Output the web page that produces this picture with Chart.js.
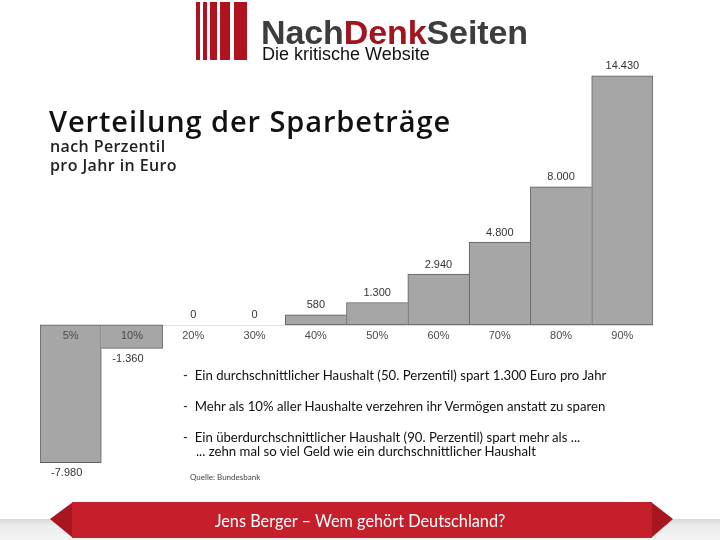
<!DOCTYPE html>
<html>
<head>
<meta charset="utf-8">
<script src="https://cdn.jsdelivr.net/npm/chart.js@4"></script>
<style>
  body { margin: 0; background: #fff; }
  #seite { position: relative; width: 720px; height: 540px; overflow: hidden; background: #fff; }
  #grafik { position: absolute; left: 0; top: 0; }
  .txt { position: absolute; white-space: nowrap; line-height: 1; }
  .streifen { position: absolute; top: 2px; height: 58px; background: #b0121f; }
</style>
</head>
<body>
<div id="seite">
  <canvas id="grafik" width="720" height="540"></canvas>

  <!-- Logo -->
  <div class="streifen" style="left:196px;width:4px"></div>
  <div class="streifen" style="left:203px;width:4px"></div>
  <div class="streifen" style="left:210px;width:7px"></div>
  <div class="streifen" style="left:220px;width:10px"></div>
  <div class="streifen" style="left:234px;width:13px"></div>
  <div class="txt" style="left:261px;top:13px;font:bold 34px 'Liberation Sans',Arial;color:#3d3d3d;letter-spacing:-0.1px">Nach<span style="color:#a0151f">Denk</span>Seiten</div>
  <div class="txt" style="left:262px;top:44px;font:18px 'Liberation Sans',Arial;color:#111">Die kritische Website</div>

  <!-- Titel -->
  <div class="txt" style="left:49px;top:101px;font:600 29px 'Open Sans';color:#111;letter-spacing:0.9px">Verteilung der Sparbeträge</div>
  <div class="txt" style="left:50px;top:135px;font:600 16px 'Open Sans';color:#222;letter-spacing:0.4px">nach Perzentil</div>
  <div class="txt" style="left:50px;top:154px;font:600 16px 'Open Sans';color:#222;letter-spacing:0.4px">pro Jahr in Euro</div>

  <!-- Aussagen -->
  <div class="txt" style="left:183px;top:367px;font:13.2px Lato;color:#111">-&nbsp; Ein durchschnittlicher Haushalt (50. Perzentil) spart 1.300 Euro pro Jahr</div>
  <div class="txt" style="left:183px;top:398px;font:13.2px Lato;color:#111">-&nbsp; Mehr als 10% aller Haushalte verzehren ihr Vermögen anstatt zu sparen</div>
  <div class="txt" style="left:183px;top:429px;font:13.2px Lato;color:#111">-&nbsp; Ein überdurchschnittlicher Haushalt (90. Perzentil) spart mehr als ...</div>
  <div class="txt" style="left:196px;top:443px;font:13.2px Lato;color:#111">... zehn mal so viel Geld wie ein durchschnittlicher Haushalt</div>
  <div class="txt" style="left:190px;top:472px;font:8px Lato;color:#444">Quelle: Bundesbank</div>

  <!-- Fusszeile -->
  <svg style="position:absolute;left:0;top:0" width="720" height="540">
    <defs>
      <linearGradient id="grau" x1="0" y1="0" x2="0" y2="1">
        <stop offset="0" stop-color="#d9d9d9"/>
        <stop offset="0.3" stop-color="#ececec"/>
        <stop offset="1" stop-color="#f4f4f4"/>
      </linearGradient>
    </defs>
    <rect x="0" y="519" width="720" height="21" fill="url(#grau)"/>
    <polygon points="73,502 50,519 73,538" fill="#a8161f"/>
    <polygon points="651,502 673,519 651,538" fill="#a8161f"/>
    <rect x="72" y="502" width="580" height="36" fill="#c41f2b"/>
  </svg>
  <div class="txt" style="left:0;width:720px;text-align:center;top:511px;font:16.3px Lato;color:#fff">Jens Berger – Wem gehört Deutschland?</div>
</div>

<script>
const percentile = ['5%', '10%', '20%', '30%', '40%', '50%', '60%', '70%', '80%', '90%'];
const sparbetraege = [-7980, -1360, 0, 0, 580, 1300, 2940, 4800, 8000, 14430];
const wertLabels = ['-7.980', '-1.360', '0', '0', '580', '1.300', '2.940', '4.800', '8.000', '14.430'];

// Rand nur dort, wo der Nachbar kleiner ist (sonst doppelte Linien)
function randBreite(c) {
    let i = c.dataIndex
    let v = sparbetraege[i]
    let vor = i > 0 ? sparbetraege[i - 1] : null
    let nach = i < sparbetraege.length - 1 ? sparbetraege[i + 1] : null
    let links = (vor === null || Math.sign(vor) != Math.sign(v) || Math.abs(vor) < Math.abs(v)) ? 1 : 0
    let rechts = (nach === null || Math.sign(nach) != Math.sign(v) || Math.abs(nach) <= Math.abs(v)) ? 1 : 0
    return { top: 1, bottom: 1, left: links, right: rechts }
}

const beschriftung = {
    id: 'beschriftung',
    beforeDatasetsDraw(chart) {
        const ctx = chart.ctx;
        const y0 = chart.scales.y.getPixelForValue(0);
        ctx.save();
        ctx.strokeStyle = '#e2e2e2';
        ctx.lineWidth = 1;
        ctx.beginPath();
        ctx.moveTo(chart.chartArea.left, Math.round(y0) + 0.5);
        ctx.lineTo(chart.chartArea.right, Math.round(y0) + 0.5);
        ctx.stroke();
        ctx.restore();
    },
    afterDatasetsDraw(chart) {
        const ctx = chart.ctx;
        const x = chart.scales.x;
        const y = chart.scales.y;
        const y0 = y.getPixelForValue(0);
        ctx.save();
        ctx.font = '11px "Liberation Sans", Arial';
        ctx.textAlign = 'center';
        percentile.forEach((p, i) => {
            const px = x.getPixelForValue(i);
            ctx.fillStyle = '#4a4a4a';
            ctx.textBaseline = 'middle';
            ctx.fillText(p, px, y0 + 11);
            const v = sparbetraege[i];
            const py = y.getPixelForValue(v);
            ctx.fillStyle = '#333';
            if (v >= 0) {
                ctx.textBaseline = 'bottom';
                ctx.fillText(wertLabels[i], px, py - 4);
            } else {
                ctx.textBaseline = 'top';
                ctx.fillText(wertLabels[i], px - 4, py + 5);
            }
        });
        ctx.restore();
    }
};

const ctx1 = document.getElementById('grafik').getContext('2d');
const grafik = new Chart(ctx1, {
    type: 'bar',
    data: {
        labels: percentile,
        datasets: [{
            label: 'Sparbeträge',
            data: sparbetraege,
            backgroundColor: '#a6a6a6',
            borderColor: '#5e5e5e',
            borderWidth: randBreite,
            borderSkipped: false,
            barPercentage: 1,
            categoryPercentage: 1
        }]
    },
    options: {
        responsive: false,
        animation: false,
        layout: { padding: { left: 40, right: 67, top: 66, bottom: 77 } },
        plugins: { legend: { display: false }, tooltip: { enabled: false } },
        scales: {
            x: { display: false },
            y: { display: false, min: -8000, max: 15000 }
        }
    },
    plugins: [beschriftung]
});
</script>
</body>
</html>
